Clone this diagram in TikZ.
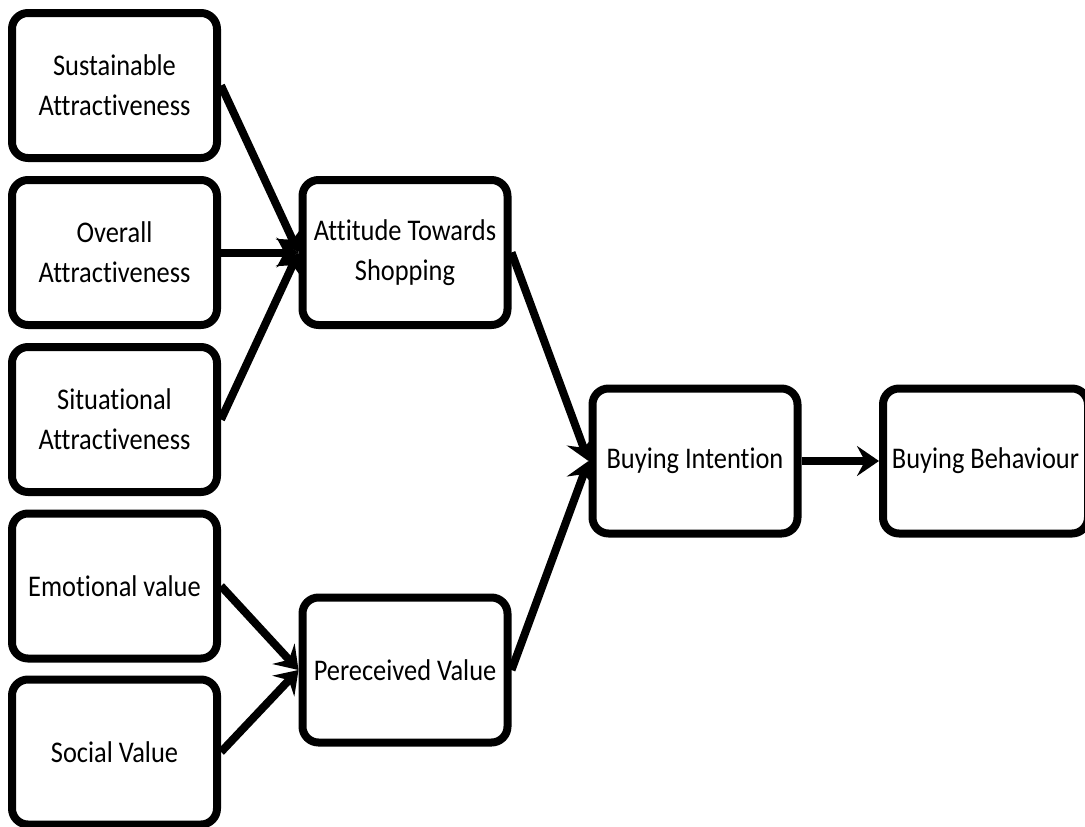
\documentclass[tikz,border=0pt]{standalone}
\usepackage{fontspec}
\setmainfont{Carlito}[FakeStretch=0.88,Ligatures={NoCommon}]
\usetikzlibrary{arrows.meta}
\begin{document}
\begin{tikzpicture}[x=1pt,y=-1pt,
  box/.style={draw, line width=8pt, rounded corners=16pt, minimum width=205pt, minimum height=145pt, align=center, font=\fontsize{30}{40}\selectfont, inner sep=0pt, fill=white},
  link/.style={line width=8pt, -{Stealth[length=22pt,width=30pt,inset=8pt]}}]
\useasboundingbox (0,0) rectangle (1085,827);
\clip (0,0) rectangle (1085,827);
\node[box] (sa) at (114.5,85.5) {Sustainable\\Attractiveness};
\node[box] (oa) at (114.5,252.5) {Overall\\Attractiveness};
\node[box] (sit) at (114.5,419.5) {Situational\\Attractiveness};
\node[box] (ev) at (114.5,586) {Emotional value};
\node[box] (sv) at (114.5,752) {Social Value};
\node[box] (at) at (405,252.5) {Attitude Towards\\Shopping};
\node[box] (pv) at (405,670) {Pereceived Value};
\node[box] (bi) at (695,461) {Buying Intention};
\node[box] (bb) at (985.5,461) {Buying Behaviour};
\draw[link] (sa.east) -- (at.west);
\draw[link] (oa.east) -- (at.west);
\draw[link] (sit.east) -- (at.west);
\draw[link] (ev.east) -- (pv.west);
\draw[link] (sv.east) -- (pv.west);
\draw[link] (at.east) -- (bi.west);
\draw[link] (pv.east) -- (bi.west);
\draw[link] (bi.east) -- (bb.west);
\end{tikzpicture}
\end{document}
